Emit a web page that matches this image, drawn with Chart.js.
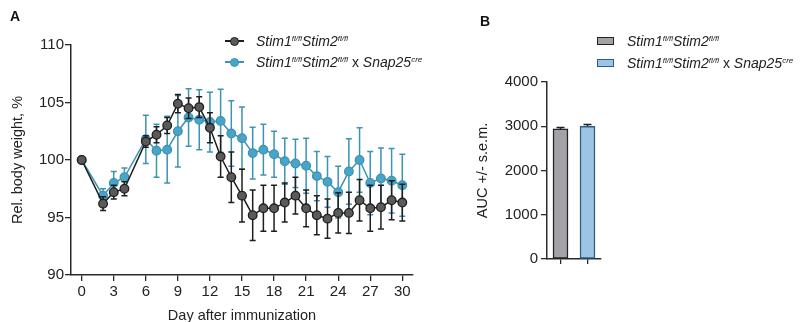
<!DOCTYPE html>
<html>
<head>
<meta charset="utf-8">
<script src="https://cdn.jsdelivr.net/npm/chart.js@4.4.0/dist/chart.umd.min.js"></script>
<style>
  html, body { margin:0; padding:0; background:#fff; }
  body { width:803px; height:322px; position:relative; overflow:hidden; font-family:"Liberation Sans", Arial, sans-serif; color:#222; }
  #cA { position:absolute; left:0; top:0; }
  #cB { position:absolute; left:460px; top:0; }
  .panel { position:absolute; font-weight:bold; font-size:14px; color:#111; }
  .leg { position:absolute; font-size:14px; white-space:nowrap; line-height:16px; color:#222; }
  .leg sup { font-size:8px; vertical-align:5px; line-height:0; font-style:italic; }
  .mk { position:absolute; }
</style>
</head>
<body>
<canvas id="cA" width="460" height="322"></canvas>
<canvas id="cB" width="343" height="322"></canvas>
<div class="panel" style="left:10px; top:8px;">A</div>
<div class="panel" style="left:480px; top:13px;">B</div>

<!-- legend A -->
<div class="mk" style="left:225px; top:40px; width:19px; height:1.5px; background:#1e1e1e;"></div>
<div class="mk" style="left:230px; top:36.5px; width:7px; height:7px; border-radius:50%; background:#5a5a5a; border:1.2px solid #1e1e1e;"></div>
<div class="leg" style="left:256px; top:33px;"><i>Stim1</i><sup>fl/fl</sup><i>Stim2</i><sup>fl/fl</sup></div>
<div class="mk" style="left:225px; top:61px; width:19px; height:1.5px; background:#3c93b3;"></div>
<div class="mk" style="left:230px; top:57.5px; width:7px; height:7px; border-radius:50%; background:#4aa3c8; border:1.2px solid #3c93b3;"></div>
<div class="leg" style="left:256px; top:54px;"><i>Stim1</i><sup>fl/fl</sup><i>Stim2</i><sup>fl/fl</sup> x <i>Snap25</i><sup>cre</sup></div>

<!-- legend B -->
<div class="mk" style="left:597px; top:37px; width:15px; height:6px; background:#a3a3a7; border:1.3px solid #222;"></div>
<div class="leg" style="left:627px; top:33px;"><i>Stim1</i><sup>fl/fl</sup><i>Stim2</i><sup>fl/fl</sup></div>
<div class="mk" style="left:597px; top:59px; width:15px; height:6px; background:#9dc3e6; border:1.3px solid #2b5f82;"></div>
<div class="leg" style="left:627px; top:55px;"><i>Stim1</i><sup>fl/fl</sup><i>Stim2</i><sup>fl/fl</sup> x <i>Snap25</i><sup>cre</sup></div>

<script>
// ---- Data ----
const days = [0,2,3,4,6,7,8,9,10,11,12,13,14,15,16,17,18,19,20,21,22,23,24,25,26,27,28,29,30];
const ctrlMean = [100,96.2,97.2,97.5,101.6,102.2,103.0,104.9,104.5,104.6,102.8,100.3,98.5,96.9,95.2,95.8,95.8,96.3,96.9,95.8,95.2,94.9,95.4,95.4,96.5,95.8,95.9,96.5,96.3];
const ctrlSem  = [0,0.6,0.6,0.6,0.5,0.7,0.7,0.8,0.9,0.9,1.3,1.8,2.2,2.3,2.2,2.0,2.0,1.7,1.6,1.6,1.7,1.7,1.75,1.8,1.8,2.0,1.9,1.7,1.6];
const koMean   = [100,96.9,98.0,98.5,101.8,100.8,100.9,102.5,103.7,103.5,103.3,103.4,102.3,101.9,100.6,100.9,100.5,99.9,99.7,99.5,98.6,98.1,97.2,99.0,100.0,98.0,98.4,98.2,97.8];
const koSem    = [0,0.6,1.0,0.8,2.1,2.3,2.9,3.1,2.5,2.6,2.6,2.75,2.85,2.7,2.25,2.2,2.0,2.0,2.1,2.4,2.15,2.2,2.25,2.85,2.8,2.75,2.65,2.8,2.7];
const xTicks = [0,3,6,9,12,15,18,21,24,27,30];
const yTicksA = [90,95,100,105,110];

const groups = ['Stim1fl/flStim2fl/fl', 'Stim1fl/flStim2fl/fl x Snap25cre'];
const aucMean = [2940, 3000];
const aucSem = [30, 40];
const yTicksB = [0,1000,2000,3000,4000];

const FONT = '"Liberation Sans", Arial, sans-serif';
const AX = '#2a2a2a';

const errorBars = {
  id: 'errorBars',
  beforeDatasetDraw(chart, args) {
    const ds = chart.data.datasets[args.index];
    if (!ds.errors) return;
    const meta = chart.getDatasetMeta(args.index);
    const ys = chart.scales.y;
    const ctx = chart.ctx;
    const cap = ds.capHalf || 3;
    ctx.save();
    ctx.strokeStyle = ds.errorColor;
    ctx.lineWidth = ds.errorWidth || 1.5;
    meta.data.forEach((el, i) => {
      const v = ds.data[i];
      const val = (typeof v === 'object') ? v.y : v;
      const e = ds.errors[i];
      if (!e) return;
      const x = el.x;
      const yt = ys.getPixelForValue(val + e);
      const yb = ys.getPixelForValue(val - e);
      ctx.beginPath();
      ctx.moveTo(x, yt); ctx.lineTo(x, yb);
      ctx.moveTo(x - cap, yt); ctx.lineTo(x + cap, yt);
      ctx.moveTo(x - cap, yb); ctx.lineTo(x + cap, yb);
      ctx.stroke();
    });
    ctx.restore();
  }
};

// ---- Chart A ----
new Chart(document.getElementById('cA'), {
  type: 'line',
  data: {
    datasets: [
      {
        label: groups[0],
        data: days.map((d, i) => ({ x: d, y: ctrlMean[i] })),
        errors: ctrlSem, errorColor: '#1e1e1e', capHalf: 3,
        borderColor: '#1e1e1e', borderWidth: 1.5,
        pointBackgroundColor: '#5a5a5a', pointBorderColor: '#1e1e1e',
        pointBorderWidth: 1.3, pointRadius: 4.3, tension: 0
      },
      {
        label: groups[1],
        data: days.map((d, i) => ({ x: d, y: koMean[i] })),
        errors: koSem, errorColor: '#3c93b3', capHalf: 3,
        borderColor: '#3c93b3', borderWidth: 1.5,
        pointBackgroundColor: '#4aa3c8', pointBorderColor: '#3c93b3',
        pointBorderWidth: 1.3, pointRadius: 4.3, tension: 0
      }
    ]
  },
  options: {
    responsive: false, animation: false, devicePixelRatio: 1,
    layout: { padding: { left: 0, top: 45, right: 47, bottom: 0 } },
    plugins: { legend: { display: false }, tooltip: { enabled: false } },
    scales: {
      x: {
        type: 'linear', min: -1, max: 31,
        afterBuildTicks: s => { s.ticks = xTicks.map(v => ({ value: v })); },
        afterFit: s => { s.height = 47; },
        grid: { display: true, drawOnChartArea: false, drawTicks: true, tickLength: 6, color: AX, lineWidth: 1.3 },
        border: { display: true, color: AX, width: 1.5 },
        ticks: { color: '#222', font: { family: FONT, size: 15 }, padding: 2, maxRotation: 0 },
        title: { display: true, text: 'Day after immunization', color: '#222', font: { family: FONT, size: 14.5 }, padding: { top: -3, bottom: -3 } }
      },
      y: {
        min: 90, max: 110,
        afterBuildTicks: s => { s.ticks = yTicksA.map(v => ({ value: v })); },
        afterFit: s => { s.width = 71; },
        grid: { display: true, drawOnChartArea: false, drawTicks: true, tickLength: 6, color: AX, lineWidth: 1.3 },
        border: { display: true, color: AX, width: 1.5 },
        ticks: { color: '#222', font: { family: FONT, size: 15 }, padding: 1 },
        title: { display: true, text: 'Rel. body weight, %', color: '#222', font: { family: FONT, size: 14.5 }, padding: { top: 9, bottom: 0 } }
      }
    }
  },
  plugins: [errorBars]
});

// ---- Chart B ----
new Chart(document.getElementById('cB'), {
  type: 'bar',
  data: {
    labels: groups,
    datasets: [{
      data: aucMean,
      errors: aucSem, errorColor: '#1e1e1e', capHalf: 4, errorWidth: 1.5,
      backgroundColor: ['#a3a3a7', '#9dc3e6'],
      borderColor: ['#222222', '#2b5f82'],
      borderWidth: 1.5, borderSkipped: false,
      barThickness: 15
    }]
  },
  options: {
    responsive: false, animation: false, devicePixelRatio: 1,
    layout: { padding: { left: 0, top: 82, right: 202, bottom: 0 } },
    plugins: { legend: { display: false }, tooltip: { enabled: false } },
    scales: {
      x: {
        offset: true,
        afterFit: s => { s.height = 63; },
        grid: { display: true, offset: false, drawOnChartArea: false, drawTicks: true, tickLength: 5, color: AX, lineWidth: 1.3 },
        border: { display: true, color: AX, width: 1.5 },
        ticks: { display: false }
      },
      y: {
        min: 0, max: 4000,
        afterBuildTicks: s => { s.ticks = yTicksB.map(v => ({ value: v })); },
        afterFit: s => { s.width = 87; },
        grid: { display: true, drawOnChartArea: false, drawTicks: true, tickLength: 6, color: AX, lineWidth: 1.3 },
        border: { display: true, color: AX, width: 1.5 },
        ticks: { color: '#222', font: { family: FONT, size: 15 }, padding: 3, callback: v => String(v) },
        title: { display: true, text: 'AUC +/- s.e.m.', color: '#222', font: { family: FONT, size: 14.5 }, padding: { top: 14, bottom: 0 } }
      }
    }
  },
  plugins: [errorBars]
});
</script>
</body>
</html>
